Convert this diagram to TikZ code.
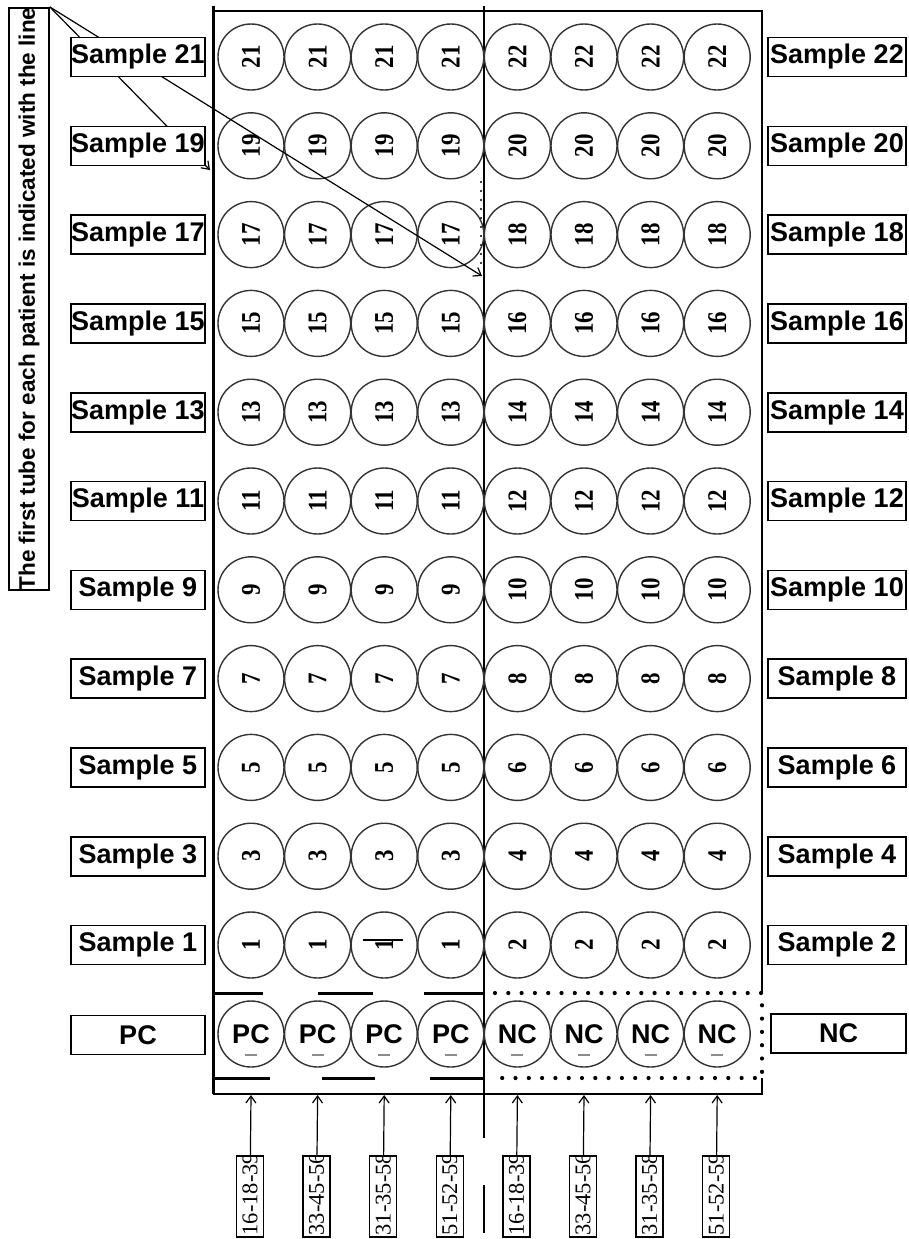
\documentclass[tikz,border=0pt]{standalone}
\usepackage{fontspec}
\setmainfont{Liberation Sans}
\newfontfamily\tubefont[FakeStretch=0.85]{Liberation Serif}
\newfontfamily\codefont{Liberation Serif}
\usetikzlibrary{
	arrows.meta,
	calc
}

\begin{document}
\begin{tikzpicture}[
			x=1pt, y=-1pt,
			>={Straight Barb[length=7pt,width=10pt]},
			tube/.style={circle, draw=black!80, line width=1.4pt, minimum size=66pt, inner sep=0pt, font=\tubefont\bfseries\fontsize{27}{27}\selectfont},
			ctrl/.style={tube, font=\bfseries\fontsize{27}{27}\selectfont},
			sample/.style={draw, line width=1.6pt, fill=white, minimum width=134pt, minimum height=39pt, inner sep=0pt, font=\bfseries\fontsize{27}{27}\selectfont},
			note/.style={draw, line width=1.6pt, rotate=90, minimum width=576pt, minimum height=40pt, inner sep=0pt, font=\bfseries\fontsize{22.5}{22.5}\selectfont},
			code/.style={draw, line width=1.4pt, minimum width=27pt, minimum height=81pt, inner sep=0pt,
					path picture={\node[rotate=90, anchor=west, inner sep=1pt, font=\codefont\fontsize{22.5}{22.5}\selectfont] at (path picture bounding box.south) {#1};}},
			rim/.style={line width=1.8pt},
			bar/.style={line width=3pt},
			dots/.style={line width=4.2pt, line cap=round, dash pattern=on 0pt off 13.3pt},
			arr/.style={->, line width=1.2pt}
		]
		\useasboundingbox (0,0) rectangle (909,1239);

		% rack
		\draw[rim] (213,11) -- (762,11) -- (762,993);
		\draw[rim] (762,1078) -- (762,1094) -- (213,1094);
		\draw[line width=3pt] (213,6) -- (213,1094);
		\draw[line width=1.6pt] (484,6) -- (484,1138) (484,1185) -- (484,1233);
		\draw[line width=2.4pt, line cap=round, dash pattern=on 0pt off 9pt] (481,182) -- (481,270);

		% tubes
		\foreach \r in {0,...,10} {
				\pgfmathsetmacro\y{57+88.8*\r}
				\pgfmathtruncatemacro\nl{21-2*\r}
				\pgfmathtruncatemacro\nr{22-2*\r}
				\foreach \col in {1,...,4}
				\node[tube, rotate=90] (t-\r-\col) at ({251+66.6*(\col-1)},\y) {\nl};
				\foreach \col in {5,...,8}
				\node[tube, rotate=90] (t-\r-\col) at ({251+66.6*(\col-1)},\y) {\nr};
			}
		\draw[line width=2.5pt] ($(t-10-3)+(-21,-5)$) -- ++(40,0);

		% controls
		\foreach \col in {1,...,4}
		\node[ctrl] (t-11-\col) at ({251+66.6*(\col-1)},1034) {PC};
		\foreach \col in {5,...,8}
		\node[ctrl] (t-11-\col) at ({251+66.6*(\col-1)},1034) {NC};
		\foreach \col in {1,...,8}
		\draw[black!45, line width=1.2pt] ($(t-11-\col)+(-6,21)$) -- ++(12,0);

		\foreach \a/\b in {213/263, 318/373, 424/484}
		\draw[bar] (\a,993) -- (\b,993);
		\foreach \a/\b in {213/270, 322/375, 430/484}
		\draw[bar] (\a,1078) -- (\b,1078);
		\draw[dots] (495,993) -- (762,993) -- (762,1078) -- (495,1078);

		% note and lines
		\node[note] (note) at (29,299) {The first tube for each patient is indicated with the line};
		\coordinate (tip-l) at (210,170);
		\coordinate (tip-m) at (482,276);
		\draw[arr] (note.south east) -- (tip-l);
		\draw[arr] (note.south east) -- (tip-m);

		% sample labels
		\foreach \r in {0,...,10} {
				\pgfmathsetmacro\y{57+88.8*\r}
				\pgfmathtruncatemacro\nl{21-2*\r}
				\pgfmathtruncatemacro\nr{22-2*\r}
				\node[sample] (sl-\nl) at (138,\y) {Sample \nl};
				\node[sample, minimum width=138pt] (sr-\nr) at (837,\y) {Sample \nr};
			}
		\node[sample] (pc) at (138,1035) {PC};
		\node[sample, minimum width=135pt] (nc) at (838.5,1033.5) {NC};

		% primer codes
		\foreach \col/\lab in {1/16-18-39, 2/33-45-56, 3/31-35-58, 4/51-52-59, 5/16-18-39, 6/33-45-56, 7/31-35-58, 8/51-52-59} {
				\node[code={\lab}] (b-\col) at ({250+66.6*(\col-1)},1196.5) {};
				\coordinate (in-\col) at ({251+66.6*(\col-1)},1095);
				\draw[arr] (b-\col) -- (in-\col);
			}
	\end{tikzpicture}
\end{document}
